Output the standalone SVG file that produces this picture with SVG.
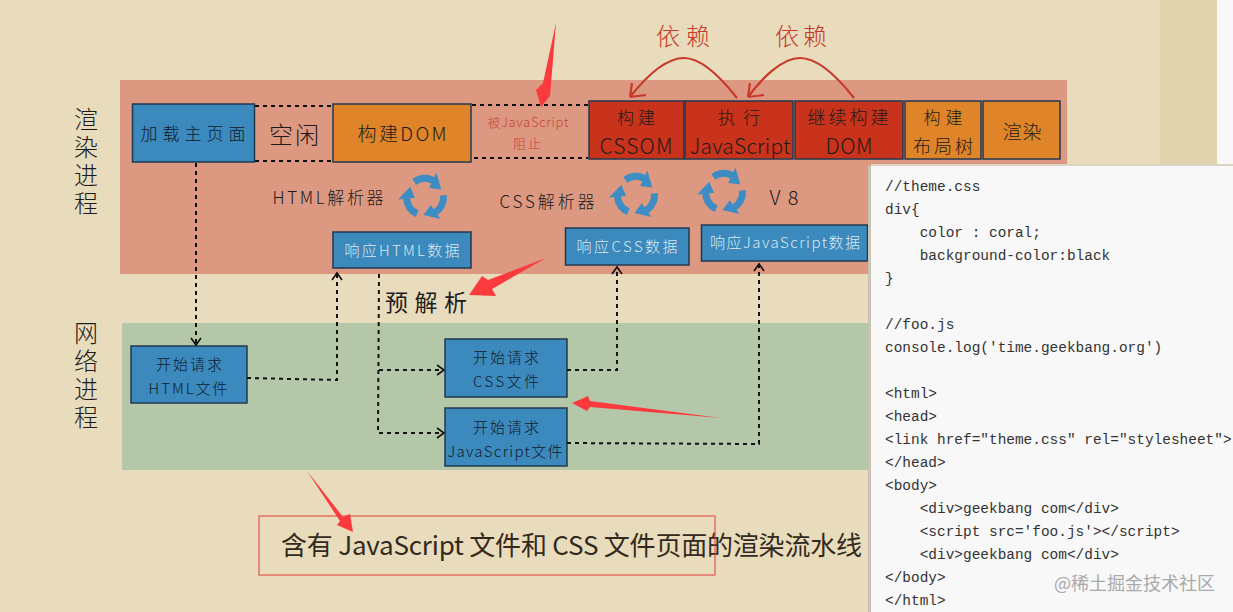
<svg xmlns="http://www.w3.org/2000/svg" width="1233" height="612" viewBox="0 0 1233 612">
<style>
.cjk{font-family:"Noto Sans CJK SC","Noto Sans",sans-serif}
.t{font-family:"Noto Sans CJK SC","Noto Sans",sans-serif;fill:#1c1c1c;text-anchor:middle;font-weight:300}
.k{font-size:15px;fill:#10202c}
.w{font-size:15px;fill:#dbe8ee}
.v{font-size:24px;writing-mode:vertical-rl;text-anchor:start;letter-spacing:4px}
.d{font-size:24px;fill:#c8392a}
.rb{fill:#c9453a;font-size:13px}
.box{stroke:#20394f;stroke-width:1.5}
.blue{fill:#3c89bd}.org{fill:#df8428}.red{fill:#c9321b}
.dash{fill:none;stroke:#111;stroke-width:2;stroke-dasharray:4 4}
.code{font-family:"Liberation Mono","DejaVu Sans Mono",monospace;font-size:14.45px;fill:#333;white-space:pre}
.ra{fill:#fb3a3e}
.dep{fill:none;stroke:#c8392a;stroke-width:2.2}
</style>
<defs>
<marker id="ah" markerWidth="12" markerHeight="12" refX="9" refY="6" orient="auto" markerUnits="userSpaceOnUse"><path d="M2 1L9 6L2 11" fill="none" stroke="#111" stroke-width="1.6"/></marker>
<g id="cyc" fill="#3d8dc4">
<path d="M-12.6 -18A22 22 0 0 1 9.3 -19.9L11.4 -24.5L16.3 -7.6L4.2 -9.1L6.3 -13.6A15 15 0 0 0 -8.6 -12.3Z"/>
<path d="M-12.6 -18A22 22 0 0 1 9.3 -19.9L11.4 -24.5L16.3 -7.6L4.2 -9.1L6.3 -13.6A15 15 0 0 0 -8.6 -12.3Z" transform="rotate(120)"/>
<path d="M-12.6 -18A22 22 0 0 1 9.3 -19.9L11.4 -24.5L16.3 -7.6L4.2 -9.1L6.3 -13.6A15 15 0 0 0 -8.6 -12.3Z" transform="rotate(240)"/>
</g>
</defs>
<rect width="1233" height="612" fill="#e8dcbc"/>
<rect x="1160" width="57" height="612" fill="#e1d3ad"/>
<rect x="1217" width="16" height="612" fill="#f8f8f8"/>
<rect x="120" y="80" width="947" height="194" fill="#dc9880"/>
<rect x="122" y="323" width="860" height="147" fill="#b5c7a9"/>

<g id="n-load"><rect class="box blue" x="132.500" y="104" width="122" height="58"/><text class="t k" x="193" y="140" font-size="17" style="font-size:17px" textLength="105">加载主页面</text></g>
<g id="n-idle"><text class="t" x="294" y="144" font-size="24" textLength="50">空闲</text></g>
<g id="n-dom"><rect class="box org" x="333" y="104" width="138" height="58"/><text class="t" x="402" y="141" font-size="19" textLength="89">构建DOM</text></g>
<g id="n-block"><text class="t rb" x="528" y="127" textLength="81">被JavaScript</text><text class="t rb" x="527" y="148" textLength="28">阻止</text></g>
<g id="n-cssom"><rect class="box red" x="589" y="101" width="95" height="58"/><text class="t" x="636" y="124" font-size="17" textLength="38">构建</text><text class="t" x="636" y="154" font-size="21" textLength="73">CSSOM</text></g>
<g id="n-js"><rect class="box red" x="685" y="101" width="108" height="58"/><text class="t" x="739" y="124" font-size="17" textLength="42">执行</text><text class="t" x="740" y="154" font-size="21" textLength="101">JavaScript</text></g>
<g id="n-dom2"><rect class="box red" x="795" y="101" width="108" height="58"/><text class="t" x="848" y="124" font-size="18" textLength="81">继续构建</text><text class="t" x="849" y="154" font-size="21" textLength="47">DOM</text></g>
<g id="n-layout"><rect class="box org" x="905" y="101" width="76" height="58"/><text class="t" x="943" y="124" font-size="17" textLength="39">构建</text><text class="t" x="943" y="153" font-size="18" textLength="60">布局树</text></g>
<g id="n-paint"><rect class="box org" x="983" y="101" width="77" height="58"/><text class="t" x="1022" y="139" font-size="19" textLength="39">渲染</text></g>

<g id="n-render-label"><text class="t v" x="86" y="107">渲染进程</text></g>
<g id="n-net-label"><text class="t v" x="86" y="321">网络进程</text></g>

<g id="n-htmlp"><text class="t" x="328" y="204" font-size="17" textLength="111">HTML解析器</text><use href="#cyc" x="425" y="197"/></g>
<g id="n-cssp"><text class="t" x="547" y="208" font-size="17" textLength="95">CSS解析器</text><use href="#cyc" x="636" y="195"/></g>
<g id="n-v8"><use href="#cyc" x="724" y="192"/><text class="t" x="784" y="205" font-size="20" textLength="29">V8</text></g>

<g id="n-rhtml"><rect class="box blue" x="333" y="232" width="138" height="36"/><text class="t w" x="402" y="256" textLength="115">响应HTML数据</text></g>
<g id="n-rcss"><rect class="box blue" x="565.500" y="228" width="123.500" height="37"/><text class="t w" x="627" y="252" textLength="101">响应CSS数据</text></g>
<g id="n-rjs"><rect class="box blue" x="701.500" y="225" width="166" height="36"/><text class="t w" x="785" y="248" textLength="150">响应JavaScript数据</text></g>

<g id="n-pre"><text class="t" x="426" y="311" font-size="23" textLength="82" style="font-weight:400">预解析</text></g>

<g id="n-qhtml"><rect class="box blue" x="131" y="346" width="116" height="57"/><text class="t k" x="189" y="370" textLength="66">开始请求</text><text class="t k" x="188" y="394" textLength="79">HTML文件</text></g>
<g id="n-qcss"><rect class="box blue" x="445" y="339" width="122" height="58"/><text class="t k" x="506" y="363" textLength="66">开始请求</text><text class="t k" x="506" y="387" textLength="66">CSS文件</text></g>
<g id="n-qjs"><rect class="box blue" x="445" y="408" width="122" height="58"/><text class="t k" x="506" y="433" textLength="66">开始请求</text><text class="t k" x="505" y="457" textLength="115">JavaScript文件</text></g>

<g id="connectors">
<path class="dash" d="M255 106H332M255 161H332M472 105H588M474 158H588"/>
<path class="dash" d="M196 163V345" marker-end="url(#ah)"/>
<path class="dash" d="M247 378L337 380V273" marker-end="url(#ah)"/>
<path class="dash" d="M379 274L378 433H444" marker-end="url(#ah)"/>
<path class="dash" d="M379 370H444" marker-end="url(#ah)"/>
<path class="dash" d="M567 370H617V267" marker-end="url(#ah)"/>
<path class="dash" d="M567 443L759 444V264" marker-end="url(#ah)"/>
<path class="dep" d="M737 98C715 70 697 58 684 58C665 58 645 78 630 97M630 97L632 83M630 97L646 95"/>
<path class="dep" d="M854 98C832 70 814 58 800 58C782 58 762 78 748 97M748 97L750 83M748 97L764 95"/>
</g>

<g id="n-dep1"><text class="t d" x="683" y="45" textLength="54">依赖</text></g>
<g id="n-dep2"><text class="t d" x="801" y="45" textLength="52">依赖</text></g>

<g id="n-caption"><text class="cjk" x="281" y="555" font-size="26" fill="#33291c" textLength="581">含有 JavaScript 文件和 CSS 文件页面的渲染流水线</text></g>
<rect x="259" y="516" width="456" height="59" fill="none" stroke="#e5393d" stroke-width="1"/>

<g id="annotations">
<path class="ra" d="M556 23L550 96L541 107L536 90L543 83Z"/>
<path class="ra" d="M546 258L488 280L482 276L469 295L496 296L492 289Z"/>
<path class="ra" d="M721 418L590 401L588 396L572 403L587 411L590 407Z"/>
<path class="ra" d="M307 471L343 517L350 514L353 532L337 525L340 521Z"/>
</g>

<g id="n-code">
<rect x="868" y="166" width="4" height="446" fill="#c9c3b4"/>
<rect x="871" y="166" width="362" height="446" fill="#f8f8f8"/>
<rect x="871" y="164" width="362" height="2" fill="#d9d4c6"/>
<text class="code" x="885" y="191">//theme.css</text>
<text class="code" x="885" y="214">div{</text>
<text class="code" x="885" y="237">    color : coral;</text>
<text class="code" x="885" y="260">    background-color:black</text>
<text class="code" x="885" y="283">}</text>
<text class="code" x="885" y="329">//foo.js</text>
<text class="code" x="885" y="352">console.log('time.geekbang.org')</text>
<text class="code" x="885" y="398">&lt;html&gt;</text>
<text class="code" x="885" y="421">&lt;head&gt;</text>
<text class="code" x="885" y="444">&lt;link href="theme.css" rel="stylesheet"&gt;</text>
<text class="code" x="885" y="467">&lt;/head&gt;</text>
<text class="code" x="885" y="490">&lt;body&gt;</text>
<text class="code" x="885" y="513">    &lt;div&gt;geekbang com&lt;/div&gt;</text>
<text class="code" x="885" y="536">    &lt;script src='foo.js'&gt;&lt;/script&gt;</text>
<text class="code" x="885" y="559">    &lt;div&gt;geekbang com&lt;/div&gt;</text>
<text class="code" x="885" y="582">&lt;/body&gt;</text>
<text class="code" x="885" y="605">&lt;/html&gt;</text>
<text class="cjk" x="1054" y="590" font-size="18" fill="#a9a9a9">@稀土掘金技术社区</text>
</g>
</svg>
